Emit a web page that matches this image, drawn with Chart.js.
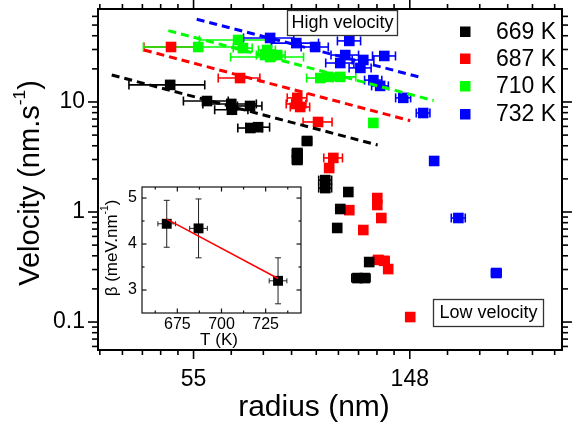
<!DOCTYPE html>
<html><head><meta charset="utf-8">
<script src="https://cdn.jsdelivr.net/npm/chart.js@4.4.1/dist/chart.umd.min.js"></script>
<style>
html,body{margin:0;padding:0;background:#fff;}
#wrap{position:relative;width:577px;height:428px;overflow:hidden;background:#fff;}
canvas{position:absolute;}
#main{left:0;top:0;}
#inset{left:100px;top:180px;}
</style></head><body>
<div id="wrap"><canvas id="main" width="577" height="428"></canvas><canvas id="inset" width="210" height="172"></canvas></div>
<script>
const FONT = '"Liberation Sans", Arial, Helvetica, sans-serif';

// ---- main chart data ----
const seriesLabels = ['669 K', '687 K', '710 K', '732 K'];
const seriesColors = ['#000000', '#ff0000', '#00ff00', '#0000ff'];

const r669 = [49.0, 58.1, 65.0, 65.2, 70.9, 71.0, 73.6, 92.3, 88.2, 88.2, 100.4, 100.4, 111.7, 107.6, 106.1, 123.0, 116.5, 120.5];
const v669 = [14.3, 10.2, 9.6, 8.5, 9.2, 5.8, 5.9, 4.42, 3.44, 2.97, 1.95, 1.65, 1.52, 1.065, 0.716, 0.351, 0.251, 0.251];
const e669 = [8.5, 6, 8, 5, 4, 4, 4, 2, 2, 2, 3, 3, 2, 2, 2, 2, 3, 3];

const r687 = [49.2, 67.7, 88.2, 89.4, 87.8, 97.1, 104.2, 102.2, 112.2, 119.7, 127.7, 127.7, 130.1, 128.3, 131.9, 134.3, 148.7];
const v687 = [31.6, 16.5, 10.9, 9.0, 9.6, 6.58, 3.10, 2.51, 1.04, 0.686, 1.34, 1.158, 0.882, 0.367, 0.36, 0.303, 0.111];
const e687 = [5.8, 6.5, 4, 4, 4, 6.5, 4.5, 2, 2, 2, 2, 2, 2, 3, 3, 2, 2];

const r710 = [55.8, 67.1, 68.6, 76.7, 76.0, 80.4, 77.8, 98.1, 101.8, 107.6, 125.4];
const v710 = [31.6, 36.6, 30.9, 29.7, 26.7, 26.7, 25.6, 16.5, 16.9, 16.9, 6.45];
const e710 = [12.5, 11, 3, 3, 3, 3, 13, 6, 3, 8, 2];

const r732 = [77.8, 87.8, 95.8, 112.2, 110.1, 107.6, 119.7, 118.1, 131.9, 125.4, 129.4, 144.0, 157.9, 166.1, 185.8, 221.4];
const v732 = [38.2, 34.3, 31.6, 35.9, 26.7, 22.6, 24.1, 20.4, 26.2, 15.8, 14.0, 10.9, 7.94, 2.91, 0.882, 0.279];
const e732 = [9, 9.5, 6, 6, 7, 7, 6, 6, 7, 5, 5, 5, 5, 3, 6, 5];

// dashed power-law fits (end points)
const fitR669 = [37.4, 127.9], fitV669 = [17.6, 4.06];
const fitR687 = [43.4, 148.7], fitV687 = [29.7, 6.76];
const fitR710 = [48.6, 165.7], fitV710 = [44.5, 10.3];
const fitR732 = [55.4, 155.8], fitV732 = [56.5, 16.8];

// axis ticks
const xMajorTicks = [54.6, 148.4];
const xTickLabels = ['55', '148'];
const xMinorTicks = [35.4, 39.3, 43.1, 46.9, 50.8, 65.0, 75.4, 85.9, 96.3, 106.7, 117.1, 127.5, 138.0, 176.7, 205.1, 233.4, 261.7, 290.0];
const yMajorTicks = [0.1, 1, 10];
const yTickLabels = ['0.1', '1', '10'];
const yMinorTicks = [0.06, 0.07, 0.08, 0.09, 0.2, 0.3, 0.4, 0.5, 0.6, 0.7, 0.8, 0.9, 2, 3, 4, 5, 6, 7, 8, 9, 20, 30, 40, 50, 60];

// ---- inset data ----
const insetT = [669, 687, 732];
const insetBeta = [4.44, 4.34, 3.2];
const insetBetaErr = [0.51, 0.64, 0.5];
const insetTErr = [5, 5, 5];
const insetFitT = [669, 732];
const insetFitBeta = [4.54, 3.25];
const insetXTicks = [675, 700, 725];
const insetXMinor = [662.5, 687.5, 712.5, 737.5];
const insetYTicks = [3, 4, 5];
const insetYMinor = [3.5, 4.5];

const pts = (xs, ys) => xs.map((x, i) => ({x: x, y: ys[i]}));
const noPad = s => { s.paddingTop = 0; s.paddingBottom = 0; s.paddingLeft = 0; s.paddingRight = 0; };
const noGrid = {display: false, drawTicks: false, tickLength: 0};

function pointSet(label, color, rs, vs, es) {
  return {type: 'scatter', label: label, data: pts(rs, vs), errX: es,
    backgroundColor: color, borderColor: color, pointStyle: 'rect',
    pointRadius: 7.5, pointHoverRadius: 7.5, borderWidth: 0, order: 1};
}
function fitSet(color, rs, vs) {
  return {type: 'line', label: '_fit', data: pts(rs, vs), borderColor: color,
    borderWidth: 3, borderDash: [8, 5], pointRadius: 0, fill: false, order: 0, isFit: true};
}

function seg(ctx, x1, y1, x2, y2) { ctx.beginPath(); ctx.moveTo(x1, y1); ctx.lineTo(x2, y2); ctx.stroke(); }

function drawSupText(ctx, cx, cy, parts, fs, rotate) {
  ctx.save();
  ctx.translate(cx, cy);
  if (rotate) ctx.rotate(-Math.PI / 2);
  ctx.fillStyle = '#000';
  ctx.textBaseline = 'middle';
  ctx.textAlign = 'left';
  let total = 0;
  parts.forEach(p => { ctx.font = (p[1] ? fs * 0.6 : fs) + 'px ' + FONT; total += ctx.measureText(p[0]).width; });
  let xx = -total / 2;
  parts.forEach(p => {
    ctx.font = (p[1] ? fs * 0.6 : fs) + 'px ' + FONT;
    ctx.fillText(p[0], xx, p[1] ? -fs * 0.38 : 0);
    xx += ctx.measureText(p[0]).width;
  });
  ctx.restore();
}

const mainPlugin = {
  id: 'mainDeco',
  beforeDatasetsDraw(chart) {
    const ctx = chart.ctx, xs = chart.scales.x, ys = chart.scales.y;
    ctx.save();
    ctx.lineWidth = 1.6;
    chart.data.datasets.forEach(ds => {
      if (!ds.errX) return;
      ctx.strokeStyle = ds.borderColor;
      ds.data.forEach((p, i) => {
        const e = ds.errX[i];
        const x1 = xs.getPixelForValue(p.x - e), x2 = xs.getPixelForValue(p.x + e), y = ys.getPixelForValue(p.y);
        seg(ctx, x1, y, x2, y);
        seg(ctx, x1, y - 4.5, x1, y + 4.5);
        seg(ctx, x2, y - 4.5, x2, y + 4.5);
      });
    });
    ctx.restore();
  },
  afterDraw(chart) {
    const ctx = chart.ctx, a = chart.chartArea, xs = chart.scales.x, ys = chart.scales.y;
    ctx.save();
    ctx.strokeStyle = '#000';
    ctx.lineWidth = 1.6;
    xMajorTicks.forEach(v => { const p = xs.getPixelForValue(v); seg(ctx, p, a.bottom, p, a.bottom + 9); seg(ctx, p, a.top, p, a.top - 9); });
    xMinorTicks.forEach(v => { const p = xs.getPixelForValue(v); seg(ctx, p, a.bottom, p, a.bottom + 5); seg(ctx, p, a.top, p, a.top - 5); });
    yMajorTicks.forEach(v => { const p = ys.getPixelForValue(v); seg(ctx, a.left, p, a.left - 10, p); seg(ctx, a.right, p, a.right + 10, p); });
    yMinorTicks.forEach(v => { const p = ys.getPixelForValue(v); seg(ctx, a.left, p, a.left - 6, p); seg(ctx, a.right, p, a.right + 6, p); });
    ctx.lineWidth = 2;
    ctx.strokeRect(a.left, a.top, a.right - a.left, a.bottom - a.top);

    // legend
    const legY = [31.5, 58.5, 86, 114];
    ctx.font = '23px ' + FONT;
    ctx.textBaseline = 'middle';
    ctx.textAlign = 'left';
    seriesLabels.forEach((lab, i) => {
      ctx.fillStyle = seriesColors[i];
      ctx.fillRect(460, legY[i] - 5, 10.5, 10.5);
      ctx.fillStyle = '#000';
      ctx.fillText(lab, 496, legY[i] + 1);
    });

    // text boxes
    ctx.lineWidth = 1.3;
    ctx.strokeStyle = '#333';
    ctx.fillStyle = '#fff';
    ctx.fillRect(287, 10, 110, 25); ctx.strokeRect(287.5, 10.5, 110, 25);
    ctx.fillRect(433, 299, 110, 27); ctx.strokeRect(433.5, 299.5, 110, 27);
    ctx.fillStyle = '#000';
    ctx.font = '18px ' + FONT;
    ctx.textAlign = 'center';
    ctx.fillText('High velocity', 342.5, 23.5);
    ctx.fillText('Low velocity', 488.5, 313);

    // axis titles
    drawSupText(ctx, 31, 183, [['Velocity (nm.s', false], ['-1', true], [')', false]], 29, true);
    drawSupText(ctx, 314, 408, [['radius (nm)', false]], 30, false);
    ctx.restore();
  }
};

new Chart(document.getElementById('main'), {
  type: 'scatter',
  data: {datasets: [
    fitSet(seriesColors[0], fitR669, fitV669),
    fitSet(seriesColors[1], fitR687, fitV687),
    fitSet(seriesColors[2], fitR710, fitV710),
    fitSet(seriesColors[3], fitR732, fitV732),
    pointSet(seriesLabels[0], seriesColors[0], r669, v669, e669),
    pointSet(seriesLabels[1], seriesColors[1], r687, v687, e687),
    pointSet(seriesLabels[2], seriesColors[2], r710, v710, e710),
    pointSet(seriesLabels[3], seriesColors[3], r732, v732, e732)
  ]},
  options: {
    responsive: false, animation: false, devicePixelRatio: 1,
    layout: {padding: {left: 0, top: 9, right: 15, bottom: 0}},
    plugins: {legend: {display: false}, tooltip: {enabled: false}},
    scales: {
      x: {type: 'logarithmic', min: 35.1, max: 300,
        grid: noGrid, border: {display: false},
        afterBuildTicks: s => { s.ticks = xMajorTicks.map(v => ({value: v})); },
        afterFit: s => { s.height = 78; noPad(s); },
        ticks: {autoSkip: false, maxRotation: 0, padding: 16, color: '#000',
          font: {family: FONT, size: 23},
          callback: (v, i) => xTickLabels[i]}},
      y: {type: 'logarithmic', min: 0.0557, max: 70,
        grid: noGrid, border: {display: false},
        afterBuildTicks: s => { s.ticks = yMajorTicks.map(v => ({value: v})); },
        afterFit: s => { s.width = 98; noPad(s); },
        ticks: {autoSkip: false, padding: 13, color: '#000',
          font: {family: FONT, size: 23},
          callback: (v, i) => yTickLabels[i]}}
    }
  },
  plugins: [mainPlugin]
});

// ---- inset ----
const insetPlugin = {
  id: 'insetDeco',
  beforeDatasetsDraw(chart) {
    const ctx = chart.ctx, xs = chart.scales.x, ys = chart.scales.y;
    ctx.save();
    ctx.strokeStyle = '#222';
    ctx.lineWidth = 1;
    insetT.forEach((t, i) => {
      const px = xs.getPixelForValue(t), py = ys.getPixelForValue(insetBeta[i]);
      const xa = xs.getPixelForValue(t - insetTErr[i]), xb = xs.getPixelForValue(t + insetTErr[i]);
      const ya = ys.getPixelForValue(insetBeta[i] - insetBetaErr[i]), yb = ys.getPixelForValue(insetBeta[i] + insetBetaErr[i]);
      seg(ctx, xa, py, xb, py); seg(ctx, xa, py - 2.5, xa, py + 2.5); seg(ctx, xb, py - 2.5, xb, py + 2.5);
      seg(ctx, px, ya, px, yb); seg(ctx, px - 3, ya, px + 3, ya); seg(ctx, px - 3, yb, px + 3, yb);
    });
    ctx.restore();
  },
  afterDraw(chart) {
    const ctx = chart.ctx, a = chart.chartArea, xs = chart.scales.x, ys = chart.scales.y;
    ctx.save();
    ctx.strokeStyle = '#111';
    ctx.lineWidth = 1.2;
    insetXTicks.forEach(v => { const p = xs.getPixelForValue(v); seg(ctx, p, a.bottom, p, a.bottom - 4.5); seg(ctx, p, a.top, p, a.top + 4.5); });
    insetXMinor.forEach(v => { const p = xs.getPixelForValue(v); seg(ctx, p, a.bottom, p, a.bottom - 2.5); seg(ctx, p, a.top, p, a.top + 2.5); });
    insetYTicks.forEach(v => { const p = ys.getPixelForValue(v); seg(ctx, a.left, p, a.left + 4.5, p); seg(ctx, a.right, p, a.right - 4.5, p); });
    insetYMinor.forEach(v => { const p = ys.getPixelForValue(v); seg(ctx, a.left, p, a.left + 2.5, p); seg(ctx, a.right, p, a.right - 2.5, p); });
    ctx.strokeRect(a.left, a.top, a.right - a.left, a.bottom - a.top);
    drawSupText(ctx, 12, 68, [['\u03B2 (meV.nm', false], ['-1', true], [')', false]], 17, true);
    drawSupText(ctx, 119, 160, [['T (K)', false]], 17, false);
    ctx.restore();
  }
};

new Chart(document.getElementById('inset'), {
  type: 'scatter',
  data: {datasets: [
    {type: 'line', label: 'fit', data: pts(insetFitT, insetFitBeta), borderColor: '#ff0000',
      borderWidth: 1.5, pointRadius: 0, fill: false, order: 0},
    {type: 'scatter', label: 'beta', data: pts(insetT, insetBeta), backgroundColor: '#000', borderColor: '#000',
      pointStyle: 'rect', pointRadius: 7, borderWidth: 0, order: 1}
  ]},
  options: {
    responsive: false, animation: false, devicePixelRatio: 1,
    layout: {padding: {left: 0, top: 6, right: 9, bottom: 0}},
    plugins: {legend: {display: false}, tooltip: {enabled: false}},
    scales: {
      x: {type: 'linear', min: 655, max: 745,
        grid: noGrid, border: {display: false},
        afterBuildTicks: s => { s.ticks = insetXTicks.map(v => ({value: v})); },
        afterFit: s => { s.height = 39; noPad(s); },
        ticks: {autoSkip: false, maxRotation: 0, padding: 2, color: '#000',
          font: {family: FONT, size: 16}, callback: v => String(v)}},
      y: {type: 'linear', min: 2.5, max: 5.24,
        grid: noGrid, border: {display: false},
        afterBuildTicks: s => { s.ticks = insetYTicks.map(v => ({value: v})); },
        afterFit: s => { s.width = 42; noPad(s); },
        ticks: {autoSkip: false, padding: 5, color: '#000',
          font: {family: FONT, size: 16}, callback: v => String(v)}}
    }
  },
  plugins: [insetPlugin]
});
</script></body></html>
